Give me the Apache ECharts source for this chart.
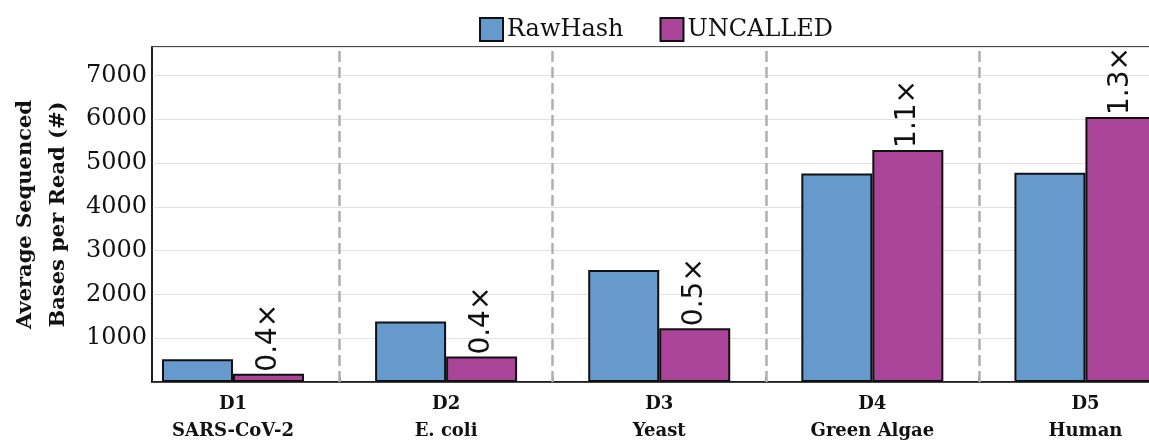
<!DOCTYPE html>
<html>
<head>
<meta charset="utf-8">
<script src="https://cdn.jsdelivr.net/npm/echarts@6/dist/echarts.min.js"></script>
<style>
  html, body { margin: 0; padding: 0; background: #fff; overflow: hidden; }
  #chart { width: 1149px; height: 441px; }
</style>
</head>
<body>
<div id="chart"></div>
<script>
// 数据
const datasets = ['D1\nSARS-CoV-2', 'D2\nE. coli', 'D3\nYeast', 'D4\nGreen Algae', 'D5\nHuman'];
const rawHash = [520, 1380, 2560, 4760, 4780];
const uncalled = [190, 580, 1230, 5300, 6050];
const ratios = ['0.4×', '0.4×', '0.5×', '1.1×', '1.3×'];
const yTicks = [1000, 2000, 3000, 4000, 5000, 6000, 7000];
const separators = [0.5, 1.5, 2.5, 3.5];

const serif = '"DejaVu Serif", serif';

const option = {
    animation: false,
    legend: {
        left: 474,
        top: 12,
        itemWidth: 23,
        itemHeight: 23,
        itemGap: 36,
        icon: 'rect',
        textStyle: { fontFamily: serif, fontSize: 24, color: '#111', padding: [0, 0, 0, -1] },
        data: ['RawHash', 'UNCALLED']
    },
    grid: {
        left: 152,
        right: -43,
        top: 47,
        bottom: 59,
        outerBoundsMode: 'none',
        containLabel: false,
        show: true,
        borderColor: '#111',
        borderWidth: 1.5
    },
    xAxis: {
        type: 'value',
        min: -0.38,
        max: 4.5,
        splitLine: { show: false },
        axisLine: { onZero: false, lineStyle: { color: '#111', width: 1.5 } },
        axisTick: {
            show: true,
            inside: true,
            length: 5,
            customValues: separators,
            lineStyle: { color: '#444', width: 1.5 }
        },
        axisLabel: {
            customValues: [0, 1, 2, 3, 4],
            formatter: v => datasets[Math.round(v)],
            fontFamily: serif,
            fontWeight: 'bold',
            fontSize: 18,
            lineHeight: 27,
            color: '#111',
            margin: 9
        }
    },
    yAxis: {
        type: 'value',
        min: 0,
        max: 7650,
        interval: 1000,
        name: 'Average Sequenced\nBases per Read (#)',
        nameLocation: 'middle',
        nameGap: 75,
        nameTextStyle: {
            fontFamily: serif,
            fontWeight: 'bold',
            fontSize: 21,
            lineHeight: 33,
            color: '#111'
        },
        axisLine: { show: true, onZero: false, lineStyle: { color: '#111', width: 1.5 } },
        axisTick: { show: false },
        splitLine: { lineStyle: { color: '#e2e2e2', width: 1 } },
        axisLabel: {
            customValues: yTicks,
            formatter: v => String(v),
            fontFamily: serif,
            fontSize: 24,
            color: '#111',
            margin: 5
        }
    },
    series: [
        {
            // 分隔虚线
            name: 'sep',
            type: 'line',
            data: [],
            silent: true,
            markLine: {
                silent: true,
                symbol: 'none',
                label: { show: false },
                lineStyle: { color: '#b0b0b0', type: [11, 5], width: 2.5 },
                data: separators.map(x => ({ xAxis: x }))
            }
        },
        {
            name: 'RawHash',
            type: 'bar',
            barWidth: 71,
            barGap: '0%',
            data: rawHash.map((v, i) => [i, v]),
            itemStyle: { color: '#6699cc', borderColor: '#111', borderWidth: 2 }
        },
        {
            name: 'UNCALLED',
            type: 'bar',
            barWidth: 71,
            barGap: '0%',
            data: uncalled.map((v, i) => [i, v]),
            itemStyle: { color: '#aa4499', borderColor: '#111', borderWidth: 2 },
            label: {
                show: true,
                position: 'top',
                rotate: 90,
                align: 'left',
                verticalAlign: 'middle',
                distance: 2,
                fontFamily: '"DejaVu Sans", sans-serif',
                fontSize: 28,
                color: '#111',
                formatter: p => ratios[p.dataIndex]
            }
        }
    ]
};

const chart = echarts.init(document.getElementById('chart'));
chart.setOption(option);
</script>
</body>
</html>
